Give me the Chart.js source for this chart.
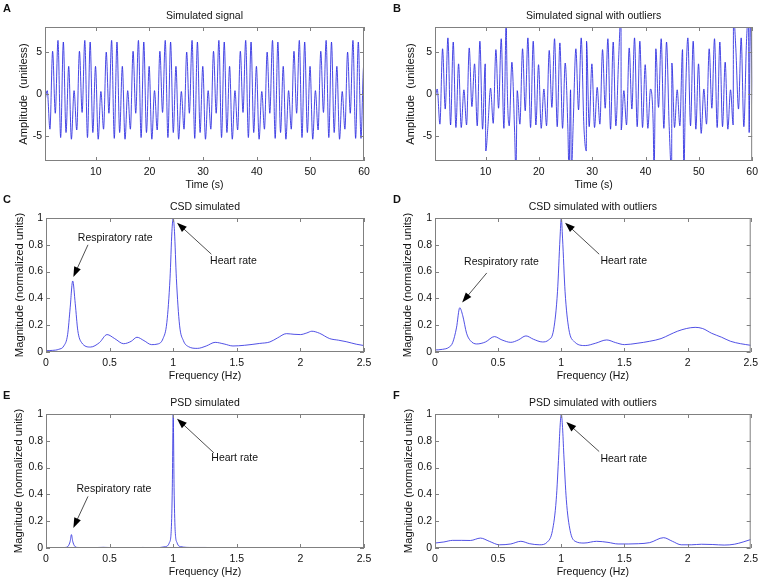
<!DOCTYPE html>
<html>
<head>
<meta charset="utf-8">
<script src="https://cdn.jsdelivr.net/npm/chart.js@4.4.1/dist/chart.umd.min.js"></script>
<style>
  body { margin: 0; background: #fff; width: 763px; height: 582px; position: relative; overflow: hidden; }
  .panel { position: absolute; }
</style>
</head>
<body>
<div class="panel" style="left:0;top:0;width:380px;height:195px"><canvas id="chartA"></canvas></div>
<div class="panel" style="left:380px;top:0;width:383px;height:195px"><canvas id="chartB"></canvas></div>
<div class="panel" style="left:0;top:191px;width:380px;height:195px"><canvas id="chartC"></canvas></div>
<div class="panel" style="left:380px;top:191px;width:383px;height:195px"><canvas id="chartD"></canvas></div>
<div class="panel" style="left:0;top:387px;width:380px;height:195px"><canvas id="chartE"></canvas></div>
<div class="panel" style="left:380px;top:387px;width:383px;height:195px"><canvas id="chartF"></canvas></div>
<script>
// time signals: alternating trough / peak samples every half second
const timeStart = 0.44;
const timeStep = 0.5;

const signalA = [
  -1.2, 0.4, -4.2, 5.1, -2.3, 6.4, -5.2, 6.2, -4.6, 3.3,
  -5.4, 0.4, -4.3, 5.1, -2.2, 6.4, -5.2, 6.2, -4.6, 3.3,
  -5.4, 0.3, -4.2, 5.0, -2.3, 6.4, -5.3, 6.2, -4.6, 3.3,
  -5.4, 0.4, -4.2, 5.1, -2.3, 6.4, -5.2, 6.2, -4.6, 3.3,
  -5.4, 0.4, -4.3, 5.1, -2.2, 6.4, -5.2, 6.2, -4.6, 3.3,
  -5.4, 0.3, -4.2, 5.0, -2.3, 6.4, -5.3, 6.2, -4.6, 3.3,
  -5.4, 0.4, -4.2, 5.1, -2.3, 6.4, -5.2, 6.2, -4.6, 3.3,
  -5.4, 0.4, -4.3, 5.1, -2.2, 6.4, -5.2, 6.2, -4.6, 3.3,
  -5.4, 0.3, -4.2, 5.0, -2.3, 6.4, -5.3, 6.2, -4.6, 3.3,
  -5.4, 0.4, -4.2, 5.1, -2.3, 6.4, -5.2, 6.2, -4.6, 3.3,
  -5.4, 0.4, -4.3, 5.1, -2.2, 6.4, -5.2, 6.2, -4.6, 3.3,
  -5.4, 0.3, -4.2, 5.0, -2.3, 6.4, -5.3, 6.2, -5.3, 3.3,
  -5.4
];

const signalB = [
  -1.0, 0.6, -3.6, 5.4, -1.8, 6.7, -3.7, 6.2, -4.0, 3.6,
  -4.0, 0.5, -3.7, 5.5, -1.5, 3.6, -3.8, 6.3, -4.2, 3.6,
  -3.9, 0.7, -3.5, 5.3, -1.7, 6.6, -4.1, 6.2, -3.8, 3.8,
  -4.3, 0.4, -3.6, 5.4, -2.0, 6.7, -4.0, 6.3, -3.7, 3.5,
  -4.1, 0.6, -3.8, 5.2, -1.6, 6.6, -3.9, 6.1, -4.1, 3.7,
  -4.2, 0.5, -3.5, 5.4, -1.9, 6.7, -3.8, 6.3, -3.9, 3.6,
  -4.0, 0.8, -3.6, 5.3, -1.7, 6.6, -4.2, 6.2, -3.8, 3.9,
  -4.3, 0.4, -3.7, 5.5, -1.8, 6.7, -3.9, 6.3, -4.0, 3.5,
  -4.1, 0.6, -3.6, 5.4, -1.6, 6.6, -4.1, 6.2, -3.9, 3.7,
  -4.0, 0.5, -3.8, 5.3, -2.0, 6.7, -3.8, 6.3, -4.2, 3.6,
  -4.7, 0.6, -3.6, 5.4, -1.7, 6.6, -4.0, 6.2, -3.9, 3.8,
  -4.2, 0.5, -3.7, 5.4, -1.8, 6.7, -3.9, 6.3, -4.6, 3.6,
  -4.1
];

// outlier samples in the second signal
const outlierTimes = [10.05, 13.9, 15.7, 25.65, 26.1, 28.9, 35.4, 41.6, 44.9, 47.2, 56.5, 59.3, 59.65];
const outlierValues = [-6.8, 9.5, -9.5, -9.5, -9.5, -6.8, 9.5, -9.5, -9.5, -9.5, 9.5, 9.5, 9.5];

// spectra (normalized)
const freqC = [0, 0.05, 0.1, 0.14, 0.17, 0.19, 0.21, 0.23, 0.25, 0.28, 0.35, 0.42, 0.48, 0.54, 0.61, 0.67, 0.715, 0.77, 0.83, 0.88, 0.92, 0.95, 0.975, 0.99, 1.0, 1.01, 1.025, 1.05, 1.08, 1.12, 1.19, 1.26, 1.33, 1.4, 1.47, 1.56, 1.68, 1.76, 1.82, 1.89, 1.95, 2.0, 2.05, 2.09, 2.15, 2.23, 2.3, 2.36, 2.44, 2.5];
const csdC = [0.01, 0.012, 0.02, 0.045, 0.13, 0.33, 0.53, 0.36, 0.16, 0.07, 0.037, 0.07, 0.13, 0.1, 0.062, 0.08, 0.11, 0.085, 0.055, 0.06, 0.1, 0.22, 0.55, 0.9, 1.0, 0.9, 0.55, 0.2, 0.085, 0.04, 0.027, 0.045, 0.072, 0.06, 0.045, 0.05, 0.064, 0.075, 0.105, 0.137, 0.132, 0.13, 0.142, 0.155, 0.14, 0.1, 0.088, 0.077, 0.058, 0.048];

const freqD = [0, 0.06, 0.11, 0.14, 0.17, 0.196, 0.22, 0.25, 0.28, 0.33, 0.4, 0.47, 0.53, 0.6, 0.66, 0.72, 0.78, 0.85, 0.9, 0.94, 0.97, 0.99, 1.0, 1.01, 1.03, 1.06, 1.1, 1.19, 1.27, 1.36, 1.43, 1.5, 1.6, 1.7, 1.79, 1.86, 1.92, 1.99, 2.06, 2.12, 2.19, 2.27, 2.34, 2.42, 2.5];
const csdD = [0.015, 0.02, 0.035, 0.07, 0.18, 0.33, 0.27, 0.14, 0.085, 0.06, 0.075, 0.115, 0.09, 0.072, 0.09, 0.12, 0.095, 0.075, 0.09, 0.17, 0.45, 0.85, 1.0, 0.85, 0.45, 0.17, 0.08, 0.048, 0.065, 0.09, 0.07, 0.055, 0.065, 0.08, 0.1, 0.13, 0.155, 0.175, 0.184, 0.175, 0.14, 0.11, 0.08, 0.062, 0.05];

const freqE = [0, 0.1, 0.15, 0.175, 0.19, 0.2, 0.21, 0.225, 0.25, 0.35, 0.45, 0.55, 0.7, 0.76, 0.85, 0.94, 0.97, 0.985, 0.993, 1.0, 1.007, 1.015, 1.03, 1.06, 1.15, 1.25, 1.4, 1.8, 2.2, 2.5];
const psdE = [0, 0.001, 0.004, 0.015, 0.05, 0.1, 0.05, 0.015, 0.004, 0.002, 0.005, 0.002, 0.002, 0.004, 0.002, 0.01, 0.04, 0.14, 0.45, 1.0, 0.45, 0.14, 0.04, 0.01, 0.004, 0.004, 0.001, 0.001, 0.001, 0.001];

const freqF = [0, 0.07, 0.14, 0.21, 0.28, 0.36, 0.43, 0.51, 0.6, 0.68, 0.75, 0.83, 0.89, 0.93, 0.96, 0.98, 0.99, 1.0, 1.01, 1.02, 1.04, 1.07, 1.11, 1.18, 1.28, 1.37, 1.45, 1.53, 1.61, 1.7, 1.81, 1.88, 1.95, 2.03, 2.11, 2.2, 2.29, 2.37, 2.44, 2.5];
const psdF = [0.037, 0.045, 0.057, 0.057, 0.056, 0.074, 0.05, 0.024, 0.03, 0.05, 0.032, 0.024, 0.045, 0.13, 0.36, 0.7, 0.9, 1.0, 0.9, 0.7, 0.36, 0.13, 0.05, 0.037, 0.05, 0.042, 0.03, 0.03, 0.032, 0.04, 0.077, 0.05, 0.024, 0.024, 0.028, 0.026, 0.022, 0.028, 0.045, 0.063];

// tick labels
const timeTicks = [10, 20, 30, 40, 50, 60];
const ampTicks = [-5, 0, 5];
const freqTicks = [0, 0.5, 1, 1.5, 2, 2.5];
const magTicks = [0, 0.2, 0.4, 0.6, 0.8, 1];

const FONT = '"Liberation Sans", Arial, Helvetica, sans-serif';
Chart.defaults.font.family = FONT;
Chart.defaults.font.size = 10.5;
Chart.defaults.color = "#111";

const toPoints = (xs, ys) => ys.map((y, i) => ({ x: xs[i], y }));

const sampleTimes = (n) => Array.from({ length: n }, (_, i) => +(timeStart + i * timeStep).toFixed(2));

const withOutliers = () => {
  const pts = toPoints(sampleTimes(signalB.length), signalB);
  outlierTimes.forEach((t, i) => pts.push({ x: t, y: outlierValues[i] }));
  return pts.sort((a, b) => a.x - b.x);
};

// matlab style box, inward ticks, title, panel letter and arrows
const matlabAxes = {
  id: "matlabAxes",
  afterDraw(chart, args, opts) {
    const { ctx, chartArea: a, scales } = chart;
    const { x, y } = scales;
    ctx.save();
    ctx.strokeStyle = "#808080";
    ctx.lineWidth = 1;
    ctx.strokeRect(a.left + 0.5, a.top + 0.5, a.width - 1, a.height - 1);
    ctx.beginPath();
    for (const t of x.ticks) {
      const px = Math.round(x.getPixelForValue(t.value)) + 0.5;
      ctx.moveTo(px, a.bottom); ctx.lineTo(px, a.bottom - 4);
      ctx.moveTo(px, a.top); ctx.lineTo(px, a.top + 4);
    }
    for (const t of y.ticks) {
      const py = Math.round(y.getPixelForValue(t.value)) + 0.5;
      ctx.moveTo(a.left, py); ctx.lineTo(a.left + 4, py);
      ctx.moveTo(a.right, py); ctx.lineTo(a.right - 4, py);
    }
    ctx.stroke();

    ctx.fillStyle = "#111";
    ctx.font = `10.5px ${FONT}`;
    ctx.textAlign = "center";
    ctx.textBaseline = "middle";
    ctx.fillText(opts.title, (a.left + a.right) / 2, a.top - 11);

    ctx.font = `bold 11px ${FONT}`;
    ctx.textAlign = "left";
    ctx.textBaseline = "alphabetic";
    ctx.fillText(opts.letter, opts.letterX, 12);

    for (const n of opts.notes || []) {
      ctx.font = `10.5px ${FONT}`;
      ctx.textBaseline = "middle";
      ctx.fillStyle = "#111";
      ctx.fillText(n.text, x.getPixelForValue(n.tx), y.getPixelForValue(n.ty));
      const x0 = x.getPixelForValue(n.from[0]), y0 = y.getPixelForValue(n.from[1]);
      const x1 = x.getPixelForValue(n.to[0]), y1 = y.getPixelForValue(n.to[1]);
      const ang = Math.atan2(y1 - y0, x1 - x0);
      ctx.strokeStyle = "#222";
      ctx.lineWidth = 0.8;
      ctx.beginPath();
      ctx.moveTo(x0, y0);
      ctx.lineTo(x1 - 8 * Math.cos(ang), y1 - 8 * Math.sin(ang));
      ctx.stroke();
      ctx.fillStyle = "#000";
      ctx.beginPath();
      ctx.moveTo(x1, y1);
      ctx.lineTo(x1 - 10 * Math.cos(ang) + 3.6 * Math.sin(ang), y1 - 10 * Math.sin(ang) - 3.6 * Math.cos(ang));
      ctx.lineTo(x1 - 10 * Math.cos(ang) - 3.6 * Math.sin(ang), y1 - 10 * Math.sin(ang) + 3.6 * Math.cos(ang));
      ctx.closePath();
      ctx.fill();
    }
    ctx.restore();
  },
};

const makePanel = (id, p) => {
  const ctx = document.getElementById(id).getContext("2d");
  return new Chart(ctx, {
    type: "line",
    data: {
      datasets: [
        {
          data: p.points,
          borderColor: p.color || "rgba(40, 40, 225, 0.85)",
          borderWidth: 1,
          pointRadius: 0,
          cubicInterpolationMode: "monotone",
          fill: false,
        },
      ],
    },
    options: {
      animation: false,
      responsive: true,
      maintainAspectRatio: false,
      layout: { padding: { top: 27, right: p.padRight, left: 0, bottom: 0 } },
      plugins: {
        legend: { display: false },
        tooltip: { enabled: false },
        matlabAxes: { title: p.title, letter: p.letter, letterX: p.letterX, notes: p.notes },
      },
      scales: {
        x: {
          type: "linear",
          min: p.xMin,
          max: p.xMax,
          afterBuildTicks: (s) => { s.ticks = p.xTicks.map((v) => ({ value: v })); },
          afterFit: (s) => { s.height = 34; },
          grid: { display: false, drawTicks: false },
          border: { display: false },
          ticks: { padding: 5, maxRotation: 0, callback: (v) => String(v) },
          title: { display: true, text: p.xTitle, font: { size: 10.5 }, padding: { top: 0, bottom: 4 } },
        },
        y: {
          type: "linear",
          min: p.yMin,
          max: p.yMax,
          afterBuildTicks: (s) => { s.ticks = p.yTicks.map((v) => ({ value: v })); },
          afterFit: (s) => { s.width = p.yWidth; },
          grid: { display: false, drawTicks: false },
          border: { display: false },
          ticks: { padding: 3, callback: (v) => String(v) },
          title: { display: true, text: p.yTitle, font: { size: 11.2 }, padding: { top: p.yTitlePad, bottom: 0 } },
        },
      },
    },
    plugins: [matlabAxes],
  });
};

const timePanel = { xMin: 0.52, xMax: 60, yMin: -8, yMax: 8, xTicks: timeTicks, yTicks: ampTicks, xTitle: "Time (s)", yTitle: "Amplitude  (unitless)" };
const freqPanel = { xMin: 0, xMax: 2.5, yMin: 0, yMax: 1, xTicks: freqTicks, yTicks: magTicks, xTitle: "Frequency (Hz)", yTitle: "Magnitude (normalized units)", color: "rgba(50, 50, 225, 0.85)" };

const respNote = (tx, ty, from, to) => ({ text: "Respiratory rate", tx, ty, from, to });
const heartNote = { text: "Heart rate", tx: 1.29, ty: 0.68, from: [1.3, 0.73], to: [1.03, 0.965] };

makePanel("chartA", { ...timePanel, points: toPoints(sampleTimes(signalA.length), signalA), title: "Simulated signal", letter: "A", letterX: 3, yWidth: 45, padRight: 16, yTitlePad: 17 });
makePanel("chartB", { ...timePanel, points: withOutliers(), title: "Simulated signal with outliers", letter: "B", letterX: 13, yWidth: 55, padRight: 10, yTitlePad: 24 });
makePanel("chartC", { ...freqPanel, points: toPoints(freqC, csdC), title: "CSD simulated", letter: "C", letterX: 3, yWidth: 46, padRight: 16, yTitlePad: 13,
  notes: [respNote(0.25, 0.85, [0.33, 0.8], [0.215, 0.56]), heartNote] });
makePanel("chartD", { ...freqPanel, points: toPoints(freqD, csdD), title: "CSD simulated with outliers", letter: "D", letterX: 13, yWidth: 55, padRight: 10, yTitlePad: 21,
  notes: [respNote(0.23, 0.67, [0.41, 0.59], [0.215, 0.37]), { ...heartNote, tx: 1.31 }] });
makePanel("chartE", { ...freqPanel, points: toPoints(freqE, psdE), title: "PSD simulated", letter: "E", letterX: 3, yWidth: 46, padRight: 16, yTitlePad: 12,
  notes: [respNote(0.24, 0.44, [0.33, 0.385], [0.215, 0.15]), { ...heartNote, tx: 1.3, ty: 0.67, from: [1.32, 0.71] }] });
makePanel("chartF", { ...freqPanel, points: toPoints(freqF, psdF), title: "PSD simulated with outliers", letter: "F", letterX: 13, yWidth: 55, padRight: 10, yTitlePad: 22,
  notes: [{ ...heartNote, tx: 1.31, ty: 0.66, from: [1.3, 0.72], to: [1.04, 0.94] }] });
</script>
</body>
</html>
